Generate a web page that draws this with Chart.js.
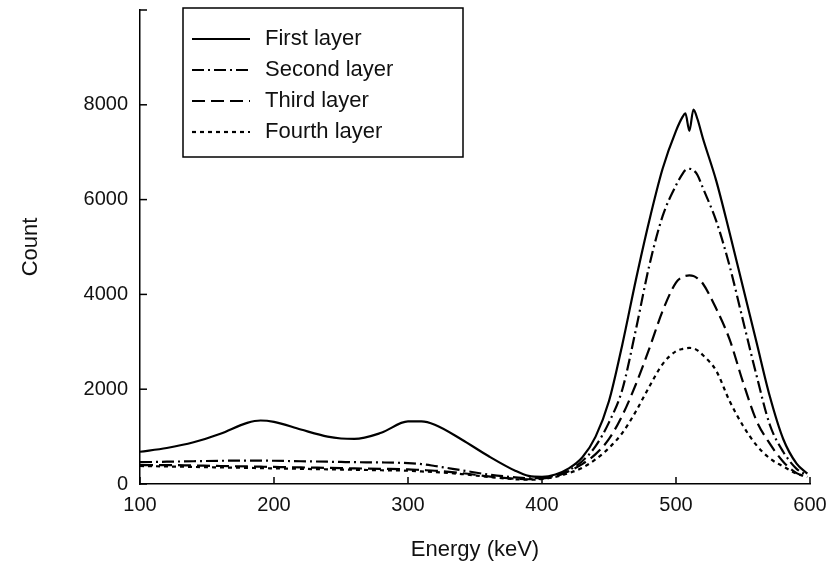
<!DOCTYPE html>
<html>
<head>
<meta charset="utf-8">
<script src="https://cdn.jsdelivr.net/npm/chart.js@4.4.1/dist/chart.umd.min.js"></script>
<style>
html,body{margin:0;padding:0;background:#fff;}
#c{display:block;}
</style>
</head>
<body>
<canvas id="c" width="831" height="582"></canvas>
<script>
// ---- data ----
const energy = [100,120,140,160,180,190,200,220,240,250,260,280,300,310,320,340,360,380,390,400,410,420,430,440,450,460,470,480,490,500,505,507,510,513,516,520,530,540,550,560,570,580,590,598];
const firstLayer  = [680,760,880,1060,1290,1340,1310,1150,1000,960,950,1080,1320,1320,1250,940,590,280,170,150,200,330,560,1000,1750,2950,4300,5550,6650,7450,7750,7820,7450,7900,7700,7300,6400,5300,4150,3000,1850,950,430,220];
const secondLayer = [460,470,480,490,495,495,490,480,470,465,460,455,440,420,380,290,200,140,120,130,180,290,480,800,1300,2000,3250,4600,5650,6300,6550,6620,6650,6620,6520,6250,5550,4600,3450,2300,1250,680,320,180];
const thirdLayer  = [400,400,390,380,370,365,360,350,340,335,330,320,310,295,280,230,160,110,100,115,160,270,420,630,950,1450,2100,2850,3650,4250,4370,4390,4400,4390,4340,4230,3700,3050,2150,1340,850,470,230,150];
const fourthLayer = [380,370,360,350,340,335,330,320,310,305,300,290,280,265,250,210,150,100,90,105,150,230,340,520,760,1080,1530,2050,2530,2800,2850,2860,2870,2860,2820,2720,2390,1750,1230,820,540,370,220,150];
const seriesNames = ['First layer','Second layer','Third layer','Fourth layer'];
const xTicks = [100,200,300,400,500,600];
const yTicks = [0,2000,4000,6000,8000,10000];

const FONT = '"Liberation Sans", Arial, sans-serif';
const pts = arr => energy.map((e,i)=>({x:e, y:arr[i]}));

const inwardTicks = {
  id:'inwardTicks',
  afterDraw(chart){
    const c = chart.ctx, xs = chart.scales.x, ys = chart.scales.y, a = chart.chartArea;
    c.save();
    c.strokeStyle = '#000'; c.lineWidth = 1.5;
    xTicks.forEach(v=>{ const p = xs.getPixelForValue(v); c.beginPath(); c.moveTo(p, a.bottom); c.lineTo(p, a.bottom-7); c.stroke(); });
    yTicks.forEach(v=>{ const p = ys.getPixelForValue(v); c.beginPath(); c.moveTo(a.left, p); c.lineTo(a.left+7, p); c.stroke(); });
    c.restore();
  }
};

const boxLegend = {
  id:'boxLegend',
  afterDraw(chart){
    const c = chart.ctx;
    c.save();
    c.fillStyle = '#fff';
    c.fillRect(183, 8, 280, 149);
    c.strokeStyle = '#000'; c.lineWidth = 1.5;
    c.strokeRect(183, 8, 280, 149);
    const rows = [39, 70, 101, 132];
    chart.data.datasets.forEach((ds,i)=>{
      const y = rows[i];
      c.setLineDash(ds.borderDash || []);
      c.lineWidth = ds.borderWidth;
      c.beginPath(); c.moveTo(192, y); c.lineTo(250, y); c.stroke();
      c.setLineDash([]);
      c.fillStyle = '#111';
      c.font = '22px ' + FONT;
      c.textBaseline = 'middle';
      c.fillText(ds.label, 265, y);
    });
    c.restore();
  }
};

const mk = (label, arr, dash) => ({
  label, data: pts(arr), borderColor:'#000', borderWidth:2.2, borderDash:dash,
  pointRadius:0, fill:false, tension:0.4, cubicInterpolationMode:'monotone'
});

new Chart(document.getElementById('c'), {
  type:'line',
  data:{ datasets:[
    mk(seriesNames[0], firstLayer, []),
    mk(seriesNames[1], secondLayer, [12,4,2,4]),
    mk(seriesNames[2], thirdLayer, [13,6]),
    mk(seriesNames[3], fourthLayer, [4,4])
  ]},
  options:{
    responsive:false, animation:false,
    layout:{padding:{top:10, right:21, left:0, bottom:0}},
    plugins:{legend:{display:false}, tooltip:{enabled:false}},
    scales:{
      x:{
        type:'linear', min:100, max:600,
        afterBuildTicks: s => { s.ticks = xTicks.map(v=>({value:v})); },
        afterFit: s => { s.height = 98; s.paddingLeft = 0; s.paddingRight = 0; },
        grid:{drawOnChartArea:false, drawTicks:false},
        border:{display:true, color:'#000', width:1.5},
        ticks:{font:{family:FONT, size:20}, color:'#111', padding:9},
        title:{display:true, text:'Energy (keV)', font:{family:FONT, size:22}, color:'#111', padding:{top:0, bottom:19}}
      },
      y:{
        type:'linear', min:0, max:10000,
        afterBuildTicks: s => { s.ticks = yTicks.map(v=>({value:v})); },
        afterFit: s => { s.width = 140; s.paddingTop = 0; s.paddingBottom = 0; },
        grid:{drawOnChartArea:false, drawTicks:false},
        border:{display:true, color:'#000', width:1.5},
        ticks:{font:{family:FONT, size:20}, color:'#111', padding:12, callback: v => v===10000 ? '' : String(v)},
        title:{display:true, text:'Count', font:{family:FONT, size:22}, color:'#111', padding:{top:18,bottom:0}}
      }
    }
  },
  plugins:[inwardTicks, boxLegend]
});
</script>
</body>
</html>
